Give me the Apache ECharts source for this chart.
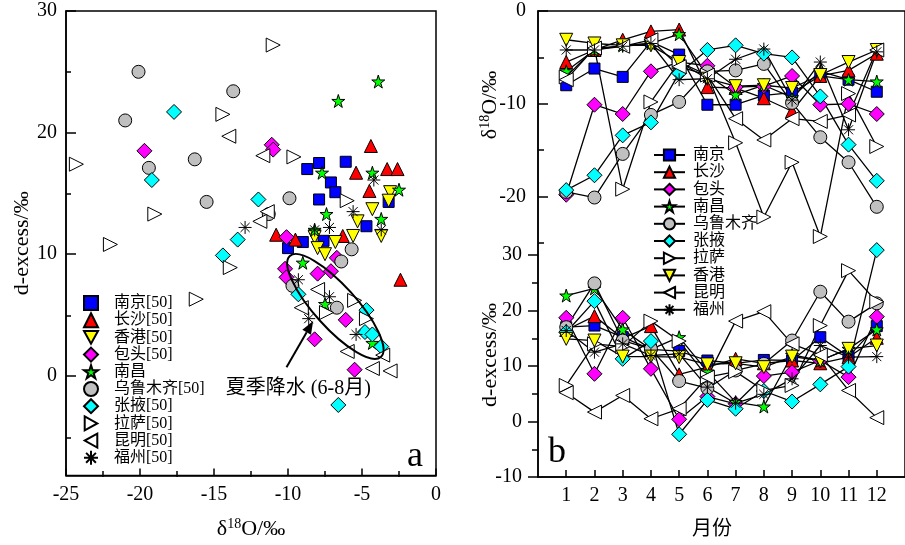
<!DOCTYPE html>
<html><head><meta charset="utf-8">
<script src="https://cdn.jsdelivr.net/npm/echarts@6/dist/echarts.min.js"></script>
<style>html,body{margin:0;padding:0;background:#fff}#c{width:905px;height:545px}</style>
</head><body><div id="c"></div>
<script>
// ---------------- DATA ----------------
// Panel a: [δ18O, d-excess] pairs per station
const aNanjing   = [[-8.7,17.0],[-7.9,17.5],[-6.1,17.6],[-7.1,15.9],[-6.8,15.1],[-3.2,14.3],[-7.9,14.5],[-4.7,12.3],[-10.0,10.5],[-9.0,11.0],[-7.6,11.1]];
const aChangsha  = [[-4.4,18.9],[-5.4,16.7],[-3.3,17.0],[-2.6,17.0],[-4.5,15.2],[-10.8,11.6],[-9.5,11.2],[-6.3,11.5],[-2.4,7.9]];
const aHongkong  = [[-3.1,15.1],[-3.2,14.4],[-4.3,13.7],[-5.3,12.7],[-5.6,11.5],[-3.7,11.5],[-8.2,11.4],[-6.8,11.0],[-8.0,10.5],[-7.5,10.0]];
const aBaotou    = [[-11.1,19.0],[-11.0,18.6],[-19.7,18.5],[-10.1,11.4],[-6.7,9.7],[-10.2,8.8],[-10.1,8.1],[-8.0,8.4],[-7.1,8.6],[-6.1,4.6],[-8.2,3.0],[-5.5,0.5]];
const aNanchang  = [[-3.9,24.2],[-6.6,22.6],[-7.7,16.7],[-4.3,16.7],[-2.5,15.3],[-7.4,13.3],[-3.7,12.9],[-8.2,12.0],[-9.0,9.3],[-7.5,5.9],[-4.3,2.7]];
const aUrumqi    = [[-20.1,25.0],[-13.7,23.4],[-21.0,21.0],[-16.3,17.8],[-19.4,17.1],[-15.5,14.3],[-9.9,14.6],[-11.3,13.3],[-5.7,10.4],[-6.4,9.4],[-9.7,7.4],[-6.7,5.6]];
const aZhangye   = [[-17.7,21.7],[-19.2,16.1],[-12.0,14.5],[-13.4,11.2],[-14.4,9.9],[-9.3,6.7],[-4.7,5.4],[-4.8,3.6],[-4.3,3.4],[-3.7,2.4],[-6.6,-2.4]];
const aLhasa     = [[-11.0,27.2],[-14.4,21.5],[-24.3,17.4],[-9.6,18.0],[-6.0,14.4],[-19.0,13.3],[-22.0,10.8],[-13.9,8.9],[-16.2,6.3],[-5.5,6.2],[-7.4,5.2],[-4.7,4.7]];
const aKunming   = [[-14.0,19.7],[-11.7,18.1],[-11.4,13.5],[-11.9,12.7],[-8.0,7.1],[-9.1,5.6],[-6.0,2.0],[-3.6,1.7],[-4.3,0.6],[-3.1,0.4]];
const aFuzhou    = [[-4.2,16.1],[-5.6,13.5],[-12.9,12.2],[-7.2,12.2],[-8.2,12.0],[-3.7,12.0],[-9.3,7.9],[-7.2,6.5],[-8.6,4.7],[-5.4,3.4]];

// Panel b: months and monthly values
const months = [1,2,3,4,5,6,7,8,9,10,11,12];
const oNanjing  = [-8.0,-6.2,-7.1,-3.3,-4.7,-10.1,-10.1,-9.1,-8.8,-7.0,-7.4,-8.7];
const oChangsha = [-5.5,-4.2,-3.1,-2.2,-2.0,-8.2,-8.3,-9.4,-10.8,-7.0,-6.4,-4.6];
const oBaotou   = [-19.8,-10.1,-11.1,-6.5,-5.5,-5.9,-8.2,-8.1,-7.0,-10.1,-10.0,-11.1];
const oNanchang = [-6.5,-4.2,-3.7,-3.5,-2.5,-6.9,-9.0,-8.0,-9.3,-6.5,-7.4,-7.6];
const oUrumqi   = [-19.5,-20.1,-15.4,-11.2,-9.8,-6.5,-6.4,-5.7,-9.9,-13.6,-16.3,-21.1];
const oZhangye  = [-19.3,-17.7,-13.4,-12.0,-6.7,-4.2,-3.7,-4.6,-5.0,-9.2,-14.4,-18.3];
const oLhasa    = [-7.1,-4.0,-19.2,-9.8,-5.5,-6.9,-14.2,-22.2,-16.3,-24.3,-8.9,-14.6];
const oHongkong = [-3.1,-3.5,-3.7,-3.7,-5.5,-7.3,-8.1,-8.0,-8.3,-6.9,-5.5,-4.2];
const oKunming  = [-7.4,-4.0,-3.8,-3.1,-6.0,-6.9,-11.6,-13.9,-11.6,-11.9,-11.2,-4.2];
const oFuzhou   = [-4.2,-4.2,-3.8,-3.5,-7.4,-7.3,-5.2,-4.1,-9.6,-5.5,-12.8,-4.4];

const xNanjing  = [17.0,17.3,15.2,13.0,12.7,11.0,10.5,11.1,11.0,15.2,11.7,17.2];
const xChangsha = [16.5,19.0,15.0,17.2,8.5,9.8,11.3,10.5,11.0,10.5,11.6,15.1];
const xBaotou   = [18.7,8.6,18.7,9.5,0.4,4.5,3.2,8.2,8.9,11.0,8.0,18.9];
const xNanchang = [22.7,24.0,16.6,13.0,15.2,9.0,3.5,2.7,12.0,11.0,13.1,16.6];
const xUrumqi   = [17.0,24.9,14.6,13.1,7.3,6.0,9.2,10.4,14.6,23.4,18.0,21.3];
const xZhangye  = [16.1,21.7,11.3,14.5,-2.3,3.9,2.3,5.5,3.6,6.7,9.9,30.9];
const xLhasa    = [6.5,14.0,13.5,18.1,14.5,8.0,9.0,5.6,6.5,17.3,27.2,21.6];
const xHongkong = [14.9,14.6,11.7,11.7,11.6,10.3,10.5,9.8,11.7,11.0,13.1,13.7];
const xKunming  = [5.2,1.7,4.7,0.5,2.3,8.0,18.1,19.8,14.0,12.0,5.6,0.7];
const xFuzhou   = [16.4,12.5,14.0,11.9,12.2,6.2,3.3,4.9,7.7,13.7,11.6,11.7];

// tick labels
const aXTicks = [-25,-20,-15,-10,-5,0];
const aXMinor = [-22.5,-17.5,-12.5,-7.5,-2.5];
const aYTicks = [0,10,20,30];
const aYMinor = [-5,5,15,25];
const bMonthTicks = months;
const bDexTicks = [-10,0,10,20,30];
const bDexMinor = [-5,5,15,25];
const bO18Ticks = [0,-10,-20];
const bO18Minor = [-5,-15,-25];

// ---------------- STYLE ----------------
const STAR = 'path://M50,0L61.8,36.2L100,36.2L69.1,58.8L80.9,95.1L50,72.6L19.1,95.1L30.9,58.8L0,36.2L38.2,36.2Z';
const DOWN = 'path://M0,0L100,0L50,90Z';
const RIGHT = 'path://M0,0L90,50L0,100Z';
const LEFT = 'path://M90,0L0,50L90,100Z';
const AST = 'path://M50,0L50,100M0,50L100,50M15,15L85,85M15,85L85,15';
const sty = {
  '南京':   {symbol:'rect', color:'#0000ff', size:11},
  '长沙':   {symbol:'triangle', color:'#ff0000', size:13},
  '香港':   {symbol:DOWN, color:'#ffff00', size:13},
  '包头':   {symbol:'diamond', color:'#ff00ff', size:15},
  '南昌':   {symbol:STAR, color:'#00ff00', size:13},
  '乌鲁木齐': {symbol:'circle', color:'#c0c0c0', size:13},
  '张掖':   {symbol:'diamond', color:'#00ffff', size:15},
  '拉萨':   {symbol:RIGHT, color:'#ffffff', size:14},
  '昆明':   {symbol:LEFT, color:'#ffffff', size:14},
  '福州':   {symbol:AST, color:'#000000', size:13}
};
const SERIF = "'Liberation Serif','Noto Sans CJK SC',serif";

const aSets = [
  ['南京',aNanjing,'南京[50]'],['长沙',aChangsha,'长沙[50]'],['香港',aHongkong,'香港[50]'],
  ['包头',aBaotou,'包头[50]'],['南昌',aNanchang,'南昌'],['乌鲁木齐',aUrumqi,'乌鲁木齐[50]'],
  ['张掖',aZhangye,'张掖[50]'],['拉萨',aLhasa,'拉萨[50]'],['昆明',aKunming,'昆明[50]'],['福州',aFuzhou,'福州[50]']
];
const bSets = [
  ['南京',oNanjing,xNanjing],['长沙',oChangsha,xChangsha],['包头',oBaotou,xBaotou],['南昌',oNanchang,xNanchang],
  ['乌鲁木齐',oUrumqi,xUrumqi],['张掖',oZhangye,xZhangye],['拉萨',oLhasa,xLhasa],['香港',oHongkong,xHongkong],
  ['昆明',oKunming,xKunming],['福州',oFuzhou,xFuzhou]
];

const series = [];
aSets.forEach(([k, pts, label]) => {
  const s = sty[k];
  series.push({
    type:'scatter', name:'a_'+label, xAxisIndex:0, yAxisIndex:0,
    symbol:s.symbol, symbolSize:s.size, data:pts,
    itemStyle:{color:s.color, borderColor:'#000', borderWidth:1, opacity:1},
    emphasis:{disabled:true}
  });
});
bSets.forEach(([k, o, x]) => {
  const s = sty[k];
  const common = {
    type:'line', name:k, symbol:s.symbol, symbolSize:s.size, showAllSymbol:true,
    itemStyle:{color:s.color, borderColor:'#000', borderWidth:1},
    lineStyle:{color:'#000', width:1.3}, emphasis:{disabled:true}, animation:false
  };
  series.push(Object.assign({}, common, {xAxisIndex:2, yAxisIndex:2, data:months.map((m,i)=>[m,o[i]])}));
  series.push(Object.assign({}, common, {xAxisIndex:1, yAxisIndex:1, data:months.map((m,i)=>[m,x[i]])}));
});

const lblStyle = {color:'#000', fontFamily:SERIF, fontSize:20};
const line = {show:true, onZero:false, lineStyle:{color:'#000', width:1.5}};
const noLine = {show:false, onZero:false};
const tk = (inside, len, vals) => ({show:true, inside:inside, length:len, customValues:vals, lineStyle:{color:'#000', width:1.5}});

const GA = {left:66, top:11, width:370, height:466};
const GB = {left:538, top:11, width:372, height:466};
const GU = {left:538, top:11, width:372, height:232};

const option = {
  animation:false,
  backgroundColor:'#fff',
  grid:[
    Object.assign({show:true, borderColor:'#000', borderWidth:1.5, backgroundColor:'transparent'}, GA), // 0 panel a
    Object.assign({show:true, borderColor:'#000', borderWidth:1.5, backgroundColor:'transparent'}, GB), // 1 panel b lower/frame
    Object.assign({}, GU),  // 2 panel b upper
    Object.assign({}, GA),  // 3 panel a minor ticks
    Object.assign({}, GB),  // 4 panel b lower minor ticks
    Object.assign({}, GU)   // 5 panel b upper minor ticks
  ],
  xAxis:[
    {gridIndex:0, type:'value', min:-25, max:0, axisLine:line, splitLine:{show:false},
     axisTick:tk(true, 7, aXTicks),
     axisLabel:Object.assign({customValues:aXTicks, margin:9}, lblStyle),
     name:'{a|δ}{s|18}{a|O/‰}', nameLocation:'middle', nameGap:42,
     nameTextStyle:{rich:{a:{fontFamily:SERIF, fontSize:22, color:'#000'}, s:{fontFamily:SERIF, fontSize:14, color:'#000', padding:[0,0,9,0]}}}},
    {gridIndex:1, type:'value', min:0, max:13, axisLine:line, splitLine:{show:false},
     axisTick:tk(true, 7, bMonthTicks),
     axisLabel:Object.assign({customValues:bMonthTicks, margin:9}, lblStyle)},
    {gridIndex:2, type:'value', min:0, max:13, show:false},
    {gridIndex:3, type:'value', min:-25, max:0, axisLine:noLine, splitLine:{show:false},
     axisTick:tk(true, 6, aXMinor), axisLabel:{show:false}},
    {gridIndex:4, type:'value', min:0, max:13, show:false},
    {gridIndex:5, type:'value', min:0, max:13, show:false}
  ],
  yAxis:[
    {gridIndex:0, type:'value', min:-8.2, max:30, axisLine:line, splitLine:{show:false},
     axisTick:tk(true, 10, aYTicks),
     axisLabel:Object.assign({customValues:aYTicks, margin:9}, lblStyle),
     name:'d-excess/‰', nameLocation:'middle', nameGap:33, nameRotate:90,
     nameTextStyle:{fontFamily:SERIF, fontSize:22, color:'#000'}},
    {gridIndex:1, type:'value', min:-10, max:74, axisLine:line, splitLine:{show:false},
     axisTick:tk(false, 10, bDexTicks),
     axisLabel:Object.assign({customValues:bDexTicks, margin:16}, lblStyle)},
    {gridIndex:2, type:'value', min:-25, max:0, axisLine:noLine, splitLine:{show:false},
     axisTick:tk(true, 10, bO18Ticks),
     axisLabel:Object.assign({customValues:bO18Ticks, margin:12}, lblStyle)},
    {gridIndex:3, type:'value', min:-8.2, max:30, axisLine:noLine, splitLine:{show:false},
     axisTick:tk(true, 5, aYMinor), axisLabel:{show:false}},
    {gridIndex:4, type:'value', min:-10, max:74, axisLine:noLine, splitLine:{show:false},
     axisTick:tk(false, 6, bDexMinor), axisLabel:{show:false}},
    {gridIndex:5, type:'value', min:-25, max:0, axisLine:noLine, splitLine:{show:false},
     axisTick:tk(true, 6, bO18Minor), axisLabel:{show:false}}
  ],
  legend:[
    {orient:'vertical', left:78, top:290, padding:5, itemWidth:14, itemHeight:14, itemGap:1.2,
     data:aSets.map(d=>'a_'+d[2]), formatter:n=>n.replace(/^a_/,''),
     textStyle:{fontFamily:SERIF, fontSize:16, color:'#000', padding:[0,0,0,11]},
     selectedMode:false},
    {orient:'vertical', left:648, top:142, padding:5, itemWidth:31, itemHeight:14, itemGap:1.2,
     data:bSets.map(d=>d[0]),
     textStyle:{fontFamily:SERIF, fontSize:16, color:'#000', padding:[0,0,0,3]},
     selectedMode:false}
  ],
  series:series
};

const chart = echarts.init(document.getElementById('c'), null, {renderer:'canvas'});
chart.setOption(option);

// -------- annotations (positioned through the axes) --------
const ellipseCenter = [-6.8, 5.7];
const arrowFrom = [-10.1, 0.7];
const arrowTo = [-8.3, 4.5];
const noteAt = [-9.3, -1.1];
const P = v => chart.convertToPixel({xAxisIndex:0, yAxisIndex:0}, v);
const ec = P(ellipseCenter), af = P(arrowFrom), at = P(arrowTo), nt = P(noteAt);
const ang = Math.atan2(at[1]-af[1], at[0]-af[0]);
const hl = 13, hw = 5;
const base = [at[0]-hl*Math.cos(ang), at[1]-hl*Math.sin(ang)];
const head = [at, [base[0]+hw*Math.sin(ang), base[1]-hw*Math.cos(ang)], [base[0]-hw*Math.sin(ang), base[1]+hw*Math.cos(ang)]];

chart.setOption({graphic:[
  {type:'ellipse', z:100, x:ec[0], y:ec[1], rotation:-48*Math.PI/180,
   shape:{cx:0, cy:0, rx:68, ry:21}, style:{fill:'none', stroke:'#000', lineWidth:2}},
  {type:'line', z:100, shape:{x1:af[0], y1:af[1], x2:base[0], y2:base[1]}, style:{stroke:'#000', lineWidth:2}},
  {type:'polygon', z:100, shape:{points:head}, style:{fill:'#000'}},
  {type:'text', z:100, x:nt[0], y:nt[1], style:{text:'夏季降水 (6-8月)', font:"20px 'Liberation Serif','Noto Sans CJK SC'", fill:'#000', align:'center', verticalAlign:'middle'}},
  {type:'text', z:100, x:415, y:457, style:{text:'a', font:"36px 'Liberation Serif'", fill:'#000', align:'center', verticalAlign:'middle'}},
  {type:'text', z:100, x:557, y:453, style:{text:'b', font:"36px 'Liberation Serif'", fill:'#000', align:'center', verticalAlign:'middle'}},
  {type:'text', z:100, x:490, y:105, rotation:Math.PI/2,
   style:{text:'{a|δ}{s|18}{a|O/‰}', rich:{a:{fontFamily:SERIF, fontSize:22, fill:'#000'}, s:{fontFamily:SERIF, fontSize:14, fill:'#000', padding:[0,0,9,0]}}, align:'center', verticalAlign:'middle'}},
  {type:'text', z:100, x:490, y:355, rotation:Math.PI/2,
   style:{text:'d-excess/‰', font:"22px 'Liberation Serif'", fill:'#000', align:'center', verticalAlign:'middle'}},
  {type:'text', z:100, x:712, y:527,
   style:{text:'月份', font:"20px 'Noto Sans CJK SC'", fill:'#000', align:'center', verticalAlign:'middle'}}
]});
</script></body></html>
